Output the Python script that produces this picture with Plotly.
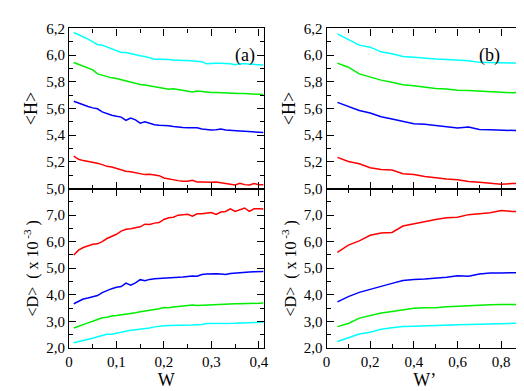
import plotly.graph_objects as go

# ---------------- data ----------------
w_a = [0.01, 0.02, 0.03, 0.04, 0.05, 0.06, 0.07, 0.08, 0.09, 0.10,
       0.11, 0.12, 0.13, 0.14, 0.15, 0.16, 0.17, 0.18, 0.19, 0.20,
       0.21, 0.22, 0.23, 0.24, 0.25, 0.26, 0.27, 0.28, 0.29, 0.30,
       0.31, 0.32, 0.33, 0.34, 0.35, 0.36, 0.37, 0.38, 0.39, 0.40, 0.41]

H_a_cyan = [6.17, 6.155, 6.14, 6.12, 6.10, 6.08, 6.075, 6.06, 6.045, 6.03,
            6.02, 6.02, 6.01, 6.0, 5.995, 5.99, 5.98, 5.97, 5.97, 5.97,
            5.967, 5.963, 5.96, 5.96, 5.96, 5.955, 5.952, 5.95, 5.935, 5.94,
            5.94, 5.94, 5.94, 5.935, 5.928, 5.935, 5.935, 5.932, 5.93, 5.928, 5.926]
H_a_green = [5.945, 5.93, 5.92, 5.905, 5.89, 5.86, 5.85, 5.835, 5.83, 5.825,
             5.815, 5.81, 5.80, 5.785, 5.78, 5.777, 5.77, 5.765, 5.76, 5.75,
             5.745, 5.748, 5.742, 5.735, 5.73, 5.725, 5.732, 5.728, 5.722, 5.72,
             5.72, 5.718, 5.715, 5.712, 5.712, 5.713, 5.712, 5.71, 5.708, 5.706, 5.705]
H_a_blue = [5.655, 5.64, 5.625, 5.615, 5.605, 5.598, 5.575, 5.562, 5.55, 5.542,
            5.536, 5.512, 5.528, 5.515, 5.49, 5.50, 5.49, 5.478, 5.475, 5.475,
            5.472, 5.466, 5.46, 5.458, 5.457, 5.455, 5.456, 5.447, 5.442, 5.44,
            5.442, 5.446, 5.44, 5.436, 5.435, 5.432, 5.43, 5.428, 5.425, 5.422, 5.42]
H_a_red = [5.244, 5.22, 5.21, 5.205, 5.197, 5.19, 5.18, 5.167, 5.162, 5.152,
           5.14, 5.13, 5.127, 5.12, 5.115, 5.105, 5.107, 5.10, 5.097, 5.08,
           5.072, 5.065, 5.06, 5.055, 5.055, 5.062, 5.05, 5.05, 5.048, 5.047,
           5.05, 5.045, 5.04, 5.035, 5.028, 5.04, 5.03, 5.028, 5.038, 5.03, 5.03]

D_a_red = [5.5, 5.68, 5.78, 5.84, 5.9, 5.92, 6.0, 6.12, 6.2, 6.28,
           6.4, 6.47, 6.49, 6.53, 6.56, 6.66, 6.65, 6.7, 6.72, 6.84,
           6.9, 6.92, 7.0, 7.02, 7.03, 6.96, 7.05, 7.05, 7.07, 7.1,
           7.03, 7.12, 7.14, 7.24, 7.14, 7.21, 7.27, 7.14, 7.24, 7.24, 7.23]
D_a_blue = [3.66, 3.76, 3.84, 3.88, 3.93, 3.97, 4.08, 4.17, 4.23, 4.28,
            4.31, 4.44, 4.36, 4.45, 4.57, 4.53, 4.58, 4.6, 4.61, 4.61,
            4.62, 4.63, 4.66, 4.67, 4.69, 4.71, 4.70, 4.76, 4.78, 4.79,
            4.79, 4.78, 4.76, 4.80, 4.82, 4.83, 4.84, 4.86, 4.87, 4.88, 4.88]
D_a_green = [2.75, 2.82, 2.88, 2.94, 3.0, 3.07, 3.13, 3.15, 3.2, 3.22,
             3.24, 3.26, 3.3, 3.32, 3.36, 3.39, 3.4, 3.44, 3.47, 3.52,
             3.51, 3.54, 3.56, 3.57, 3.6, 3.61, 3.6, 3.61, 3.62, 3.62,
             3.63, 3.64, 3.65, 3.65, 3.66, 3.66, 3.66, 3.67, 3.68, 3.68, 3.69]
D_a_cyan = [2.19, 2.23, 2.27, 2.31, 2.36, 2.42, 2.47, 2.51, 2.51, 2.55,
            2.59, 2.62, 2.66, 2.68, 2.70, 2.72, 2.75, 2.79, 2.82, 2.83,
            2.84, 2.84, 2.85, 2.86, 2.86, 2.86, 2.87, 2.88, 2.92, 2.92,
            2.91, 2.91, 2.91, 2.92, 2.93, 2.94, 2.94, 2.94, 2.95, 2.95, 2.96]

w_b = [0.05, 0.10, 0.15, 0.20, 0.25, 0.30, 0.35, 0.40, 0.45,
       0.50, 0.55, 0.60, 0.65, 0.70, 0.75, 0.80, 0.85, 0.90]

H_b_cyan = [6.16, 6.12, 6.075, 6.06, 6.025, 6.01, 5.99, 5.985, 5.976,
            5.971, 5.967, 5.962, 5.958, 5.946, 5.944, 5.943, 5.94, 5.94]
H_b_green = [5.94, 5.91, 5.86, 5.837, 5.813, 5.797, 5.778, 5.77, 5.758,
             5.751, 5.747, 5.737, 5.735, 5.73, 5.727, 5.72, 5.718, 5.722]
H_b_blue = [5.646, 5.617, 5.586, 5.567, 5.538, 5.522, 5.502, 5.486, 5.483,
            5.474, 5.467, 5.455, 5.462, 5.443, 5.441, 5.44, 5.438, 5.433]
H_b_red = [5.234, 5.203, 5.187, 5.156, 5.144, 5.139, 5.112, 5.105, 5.091,
           5.081, 5.072, 5.067, 5.053, 5.048, 5.043, 5.033, 5.038, 5.038]

D_b_red = [5.6, 5.87, 6.03, 6.24, 6.33, 6.35, 6.59, 6.67, 6.77,
           6.84, 6.9, 6.92, 7.02, 7.05, 7.09, 7.18, 7.14, 7.14]
D_b_blue = [3.73, 3.93, 4.09, 4.21, 4.33, 4.43, 4.54, 4.58, 4.59,
            4.62, 4.66, 4.72, 4.70, 4.78, 4.82, 4.82, 4.82, 4.84]
D_b_green = [2.80, 2.92, 3.12, 3.22, 3.31, 3.37, 3.43, 3.49, 3.51,
             3.51, 3.55, 3.57, 3.60, 3.61, 3.62, 3.63, 3.63, 3.63]
D_b_cyan = [2.24, 2.37, 2.52, 2.59, 2.70, 2.76, 2.80, 2.81, 2.83,
            2.85, 2.86, 2.87, 2.88, 2.89, 2.91, 2.92, 2.92, 2.93]

xa_ticks = [0, 0.1, 0.2, 0.3, 0.4]
xa_text = ["0", "0,1", "0,2", "0,3", "0,4"]
xb_ticks = [0, 0.2, 0.4, 0.6, 0.8]
xb_text = ["0", "0,2", "0,4", "0,6", "0,8"]
h_ticks = [5.0, 5.2, 5.4, 5.6, 5.8, 6.0, 6.2]
h_text = ["5,0", "5,2", "5,4", "5,6", "5,8", "6,0", "6,2"]
d_ticks = [2, 3, 4, 5, 6, 7]
d_text = ["2,0", "3,0", "4,0", "5,0", "6,0", "7,0"]

colors = {"red": "#ff0000", "blue": "#0000ff", "green": "#00ee00", "cyan": "#00ffff"}

# ---------------- figure ----------------
fig = go.Figure()

def add(x, y, col, xa, ya):
    fig.add_trace(go.Scatter(x=x, y=y, mode="lines", xaxis=xa, yaxis=ya,
                             line=dict(color=colors[col], width=1.5),
                             showlegend=False, hoverinfo="skip"))

for col, ys in [("cyan", H_a_cyan), ("green", H_a_green), ("blue", H_a_blue), ("red", H_a_red)]:
    add(w_a, ys, col, "x", "y")
for col, ys in [("red", D_a_red), ("blue", D_a_blue), ("green", D_a_green), ("cyan", D_a_cyan)]:
    add(w_a, ys, col, "x2", "y2")
for col, ys in [("cyan", H_b_cyan), ("green", H_b_green), ("blue", H_b_blue), ("red", H_b_red)]:
    add(w_b, ys, col, "x3", "y3")
for col, ys in [("red", D_b_red), ("blue", D_b_blue), ("green", D_b_green), ("cyan", D_b_cyan)]:
    add(w_b, ys, col, "x4", "y4")

W, Hpx = 524, 391
def px(x0, x1):
    return [x0 / W, x1 / W]
def py(top, bot):
    return [1 - bot / Hpx, 1 - top / Hpx]

FONT = "Liberation Serif, Times New Roman, serif"
common = dict(showline=True, linecolor="black", linewidth=1.2, mirror="allticks",
              ticks="inside", ticklen=7, tickwidth=1, tickcolor="black",
              showgrid=False, zeroline=False,
              tickfont=dict(family=FONT, size=15, color="black"))

def xax(dom, rng, tv, tt, minor_dt, anchor, labels, title=None):
    d = dict(common, domain=dom, range=rng, tickvals=tv, ticktext=tt,
             showticklabels=labels, anchor=anchor,
             minor=dict(ticks="inside", ticklen=4, dtick=minor_dt, tick0=0,
                        tickcolor="black", showgrid=False))
    if title:
        d["title"] = dict(text=title, font=dict(family=FONT, size=18, color="black"),
                          standoff=4)
    return d

def yax(dom, rng, tv, tt, minor_dt, anchor, title, size):
    return dict(common, domain=dom, range=rng, tickvals=tv, ticktext=tt,
                anchor=anchor,
                minor=dict(ticks="inside", ticklen=4, dtick=minor_dt, tick0=0,
                           tickcolor="black", showgrid=False),
                title=dict(text=title, font=dict(family=FONT, size=size, color="black"),
                           standoff=3))

top = py(13, 180)
bot = py(180, 346)
left = px(58, 256)
right = px(320, 520)

H_title = "&lt;H&gt;"
D_title = "&lt;D&gt;  ( x 10<sup> -3</sup> )"

fig.update_layout(
    width=W, height=Hpx,
    margin=dict(l=0, r=0, t=0, b=0),
    paper_bgcolor="white", plot_bgcolor="white",
    font=dict(family=FONT, color="black"),
    xaxis=xax(left, [0, 0.41], xa_ticks, xa_text, 0.05, "y", False),
    yaxis=yax(top, [5.0, 6.2], h_ticks, h_text, 0.1, "x", H_title, 18),
    xaxis2=xax(left, [0, 0.41], xa_ticks, xa_text, 0.05, "y2", True, "W"),
    yaxis2=yax(bot, [2.0, 8.0], d_ticks, d_text, 0.5, "x2", D_title, 16),
    xaxis3=xax(right, [0, 0.9], xb_ticks, xb_text, 0.1, "y3", False),
    yaxis3=yax(top, [5.0, 6.2], h_ticks, h_text, 0.1, "x3", H_title, 18),
    xaxis4=xax(right, [0, 0.9], xb_ticks, xb_text, 0.1, "y4", True, "W’"),
    yaxis4=yax(bot, [2.0, 8.0], d_ticks, d_text, 0.5, "x4", D_title, 16),
    annotations=[
        dict(text="(a)", xref="paper", yref="paper", x=237 / W, y=1 - 28 / Hpx,
             showarrow=False, font=dict(family=FONT, size=18, color="black")),
        dict(text="(b)", xref="paper", yref="paper", x=499 / W, y=1 - 28 / Hpx,
             showarrow=False, font=dict(family=FONT, size=18, color="black")),
    ],
)

fig.write_html("out.html")
